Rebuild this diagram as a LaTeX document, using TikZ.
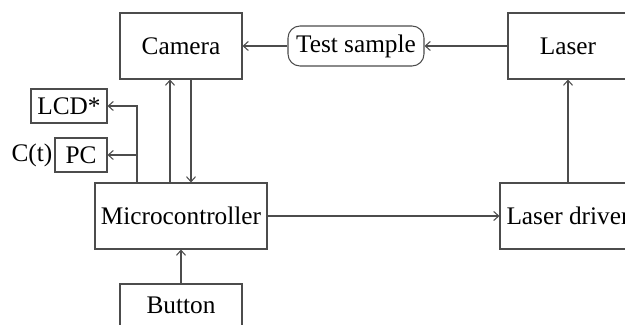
\documentclass[tikz,border=0pt]{standalone}
\usepackage{fontspec}
\setmainfont{Liberation Serif}
\usetikzlibrary{positioning,arrows.meta}

\tikzset{
	blk/.style={draw=black!70,line width=0.6pt,minimum width=2.44cm,minimum height=1.32cm,inner sep=0pt,font=\fontsize{14.4}{17}\selectfont},
	smallblk/.style={draw=black!70,line width=0.6pt,minimum height=0.68cm,inner sep=0pt,font=\fontsize{14.4}{17}\selectfont},
	link/.style={draw=black!70,line width=0.6pt}
}

\begin{document}
\begin{tikzpicture}[>={Straight Barb[length=1mm,width=1.8mm]}]
			
			\clip (0,0) rectangle (12.5,6.5);
			
			\node[blk] (cam) at (3.62,5.58){Camera};
			
			\node[smallblk,rounded corners=0.24cm,minimum width=2.72cm,minimum height=0.8cm] (sample) at (7.12,5.58){Test sample};
			
			\node[blk,minimum width=2.4cm] (laser) at (11.36,5.58){Laser};
			
			\node[smallblk,minimum width=1.52cm] (lcd) at (1.38,4.38){LCD*};
			
			\node[smallblk,minimum width=1.04cm] (pc) at (1.62,3.40){PC};
			
			\node[left=0pt of pc,inner sep=1pt,font=\fontsize{14.4}{17}\selectfont] (ct){C(t)};
			
			\node[blk,minimum width=3.44cm] (mcu) at (3.62,2.18){Microcontroller};
			
			\node[blk,minimum height=0.84cm] (button) at (3.62,0.4){Button};
			
			\node[blk,minimum width=2.72cm] (driver) at (11.36,2.18){Laser driver};
			
			\coordinate (tap) at ([xshift=-0.88cm]mcu.north);
			
			\draw[link,->](laser.west)--(sample.east);
			\draw[link,->](sample.west)--(cam.east);
			
			\draw[link,->]([xshift=-0.22cm]mcu.north)--([xshift=-0.22cm]cam.south);
			\draw[link,->]([xshift=0.2cm]cam.south)--([xshift=0.2cm]mcu.north);
			
			\draw[link,->](tap)|-(lcd.east);
			\draw[link,->](tap)|-(pc.east);
			
			\draw[link,->](mcu.east)--(driver.west);
			\draw[link,->](driver.north)--(laser.south);
			\draw[link,->](button.north)--(mcu.south);
			
		\end{tikzpicture}
\end{document}
